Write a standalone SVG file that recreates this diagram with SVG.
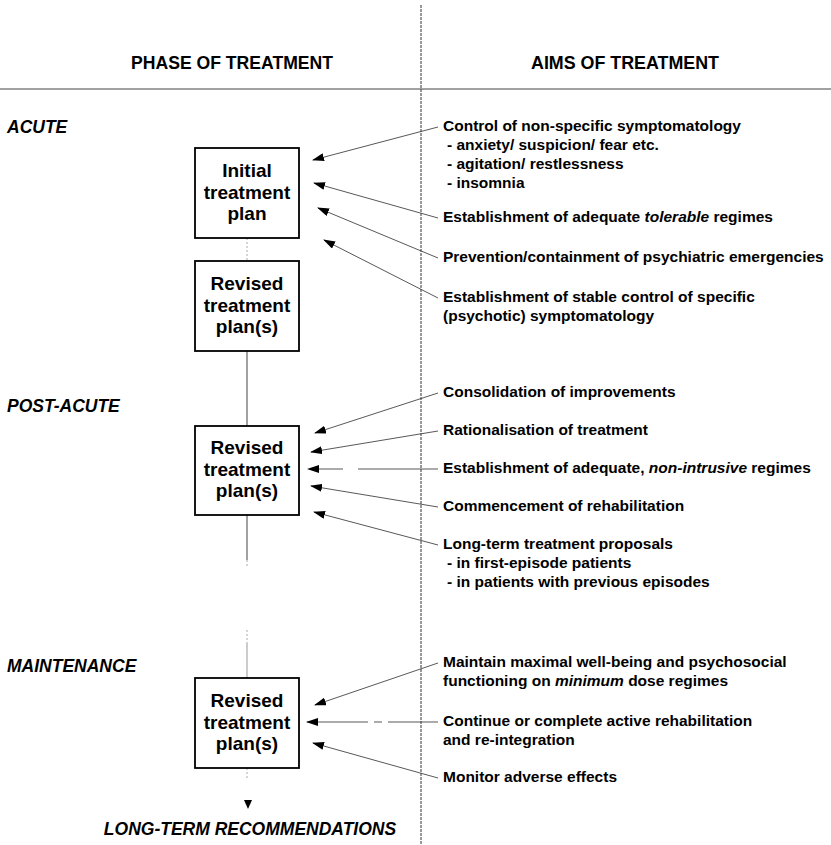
<svg xmlns="http://www.w3.org/2000/svg" width="831" height="845" viewBox="0 0 831 845">
  <style>
    text { font-family: "Liberation Sans", Arial, sans-serif; font-weight: bold; fill: #000; }
    .head { font-size: 18px; text-anchor: middle; }
    .phase { font-size: 17.5px; font-style: italic; }
    .box { fill: #fff; stroke: #000; stroke-width: 1.8; }
    .boxtxt { font-size: 19px; text-anchor: middle; }
    .aim { font-size: 15.5px; }
    .arrow { stroke: #3a3a3a; stroke-width: 0.85; fill: none; marker-end: url(#ah); }
    .link { stroke: #444; stroke-width: 1; fill: none; }
    .faint { stroke: #aaa; stroke-width: 1; fill: none; stroke-dasharray: 2 2; }
    .rule { stroke: #444; stroke-width: 1.2; fill: none; }
    .divider { stroke: #333; stroke-width: 1; fill: none; stroke-dasharray: 3 1; }
  </style>
  <defs>
    <marker id="ah" markerUnits="userSpaceOnUse" markerWidth="12" markerHeight="8" refX="11" refY="4" orient="auto">
      <path d="M0,0 L12,4 L0,8 z" fill="#000"/>
    </marker>
  </defs>

  <rect width="831" height="845" fill="#fff"/>

  <!-- table frame: column divider and header rule -->
  <g id="frame">
    <line class="divider" x1="421" y1="5" x2="421" y2="845"/>
    <line class="rule" x1="0" y1="89" x2="831" y2="89"/>
    <text class="head" x="232" y="69" textLength="202" lengthAdjust="spacingAndGlyphs">PHASE OF TREATMENT</text>
    <text class="head" x="625" y="69" textLength="188" lengthAdjust="spacingAndGlyphs">AIMS OF TREATMENT</text>
  </g>

  <!-- phase labels -->
  <g id="phases">
    <text class="phase" x="7" y="133">ACUTE</text>
    <text class="phase" x="7" y="412">POST-ACUTE</text>
    <text class="phase" x="7" y="672">MAINTENANCE</text>
    <text class="phase" x="250" y="835" text-anchor="middle">LONG-TERM RECOMMENDATIONS</text>
  </g>

  <!-- connectors -->
  <g id="connectors">
    <!-- treatment-plan chain -->
    <line class="faint" x1="247" y1="238" x2="247" y2="261"/>
    <line class="link" x1="247" y1="351" x2="247" y2="426"/>
    <line class="link" x1="247" y1="515" x2="247" y2="560"/>
    <line class="faint" x1="247" y1="560" x2="247" y2="566"/>
    <line class="faint" x1="247" y1="630" x2="247" y2="643"/>
    <line stroke="#999" stroke-width="1" x1="247" y1="643" x2="247" y2="678"/>
    <line class="faint" x1="247" y1="768" x2="247" y2="778"/>
    <path d="M244,800 L252,800 L248,809 z" fill="#000"/>

    <!-- acute aims -->
    <line class="arrow" x1="438" y1="127" x2="313" y2="160"/>
    <line class="arrow" x1="438" y1="218" x2="314" y2="183"/>
    <line class="arrow" x1="438" y1="258" x2="318" y2="208"/>
    <line class="arrow" x1="438" y1="298" x2="324" y2="240"/>

    <!-- post-acute aims -->
    <line class="arrow" x1="438" y1="393" x2="315" y2="433"/>
    <line class="arrow" x1="438" y1="431" x2="311" y2="452"/>
    <line class="arrow" x1="438" y1="469" x2="308" y2="469" stroke-dasharray="80 15 25 100"/>
    <line class="arrow" x1="438" y1="507" x2="311" y2="486"/>
    <line class="arrow" x1="438" y1="545" x2="314" y2="512"/>

    <!-- maintenance aims -->
    <line class="arrow" x1="438" y1="663" x2="315" y2="705"/>
    <line class="arrow" x1="438" y1="722" x2="307" y2="722" stroke-dasharray="50 6 8 6 80"/>
    <line class="arrow" x1="438" y1="778" x2="313" y2="743"/>
  </g>

  <!-- treatment plan nodes -->
  <g id="plan-initial">
    <rect class="box" x="195" y="148" width="104" height="90"/>
    <text class="boxtxt" x="247" y="177">Initial</text>
    <text class="boxtxt" x="247" y="198.5">treatment</text>
    <text class="boxtxt" x="247" y="220">plan</text>
  </g>
  <g id="plan-revised-acute">
    <rect class="box" x="195" y="261" width="104" height="90"/>
    <text class="boxtxt" x="247" y="290">Revised</text>
    <text class="boxtxt" x="247" y="311.5">treatment</text>
    <text class="boxtxt" x="247" y="333">plan(s)</text>
  </g>
  <g id="plan-revised-postacute">
    <rect class="box" x="195" y="426" width="104" height="89"/>
    <text class="boxtxt" x="247" y="454">Revised</text>
    <text class="boxtxt" x="247" y="475.5">treatment</text>
    <text class="boxtxt" x="247" y="497">plan(s)</text>
  </g>
  <g id="plan-revised-maintenance">
    <rect class="box" x="195" y="678" width="104" height="90"/>
    <text class="boxtxt" x="247" y="707">Revised</text>
    <text class="boxtxt" x="247" y="728.5">treatment</text>
    <text class="boxtxt" x="247" y="750">plan(s)</text>
  </g>

  <!-- aims of treatment -->
  <g id="aim-control">
    <text class="aim" x="443" y="131">Control of non-specific symptomatology</text>
    <text class="aim" x="447" y="150">- anxiety/ suspicion/ fear etc.</text>
    <text class="aim" x="447" y="169">- agitation/ restlessness</text>
    <text class="aim" x="447" y="188">- insomnia</text>
  </g>
  <g id="aim-tolerable">
    <text class="aim" x="443" y="222">Establishment of adequate <tspan font-style="italic">tolerable</tspan> regimes</text>
  </g>
  <g id="aim-prevention">
    <text class="aim" x="443" y="262">Prevention/containment of psychiatric emergencies</text>
  </g>
  <g id="aim-stable">
    <text class="aim" x="443" y="302">Establishment of stable control of specific</text>
    <text class="aim" x="443" y="321">(psychotic) symptomatology</text>
  </g>
  <g id="aim-consolidation">
    <text class="aim" x="443" y="397">Consolidation of improvements</text>
  </g>
  <g id="aim-rationalisation">
    <text class="aim" x="443" y="435">Rationalisation of treatment</text>
  </g>
  <g id="aim-nonintrusive">
    <text class="aim" x="443" y="473">Establishment of adequate, <tspan font-style="italic">non-intrusive</tspan> regimes</text>
  </g>
  <g id="aim-rehabilitation">
    <text class="aim" x="443" y="511">Commencement of rehabilitation</text>
  </g>
  <g id="aim-longterm">
    <text class="aim" x="443" y="549">Long-term treatment proposals</text>
    <text class="aim" x="447" y="568">- in first-episode patients</text>
    <text class="aim" x="447" y="587">- in patients with previous episodes</text>
  </g>
  <g id="aim-wellbeing">
    <text class="aim" x="443" y="667">Maintain maximal well-being and psychosocial</text>
    <text class="aim" x="443" y="686">functioning on <tspan font-style="italic">minimum</tspan> dose regimes</text>
  </g>
  <g id="aim-reintegration">
    <text class="aim" x="443" y="726">Continue or complete active rehabilitation</text>
    <text class="aim" x="443" y="745">and re-integration</text>
  </g>
  <g id="aim-monitor">
    <text class="aim" x="443" y="782">Monitor adverse effects</text>
  </g>
</svg>
